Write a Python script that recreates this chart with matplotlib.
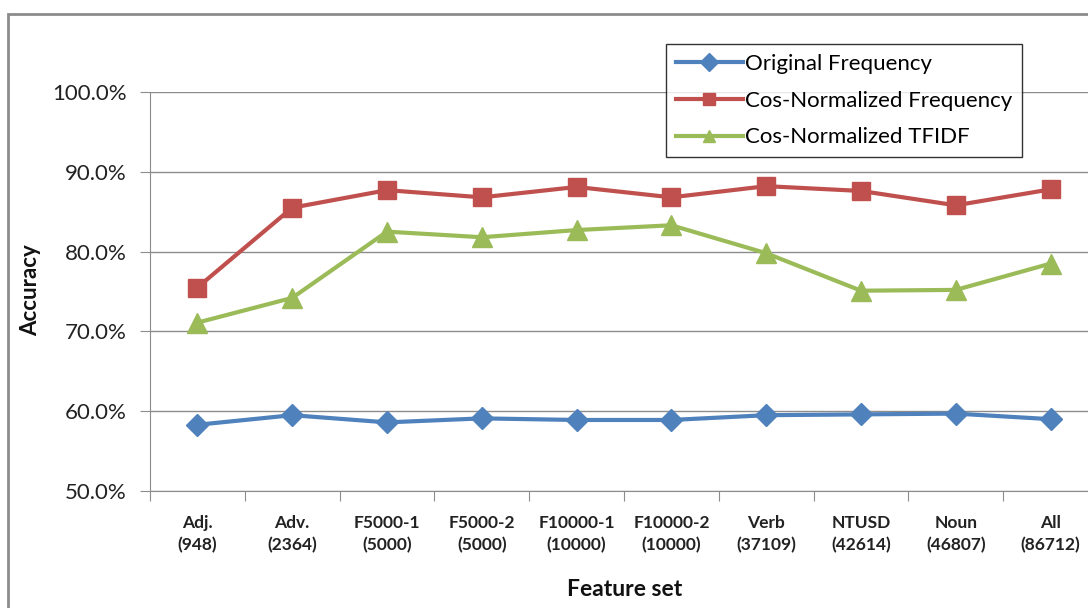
import numpy as np
import matplotlib
matplotlib.use("Agg")
import matplotlib.pyplot as plt
from matplotlib.patches import Rectangle

plt.rcParams['font.family'] = ['Lato', 'DejaVu Sans']

categories = ["Adj.\n(948)", "Adv.\n(2364)", "F5000-1\n(5000)", "F5000-2\n(5000)",
              "F10000-1\n(10000)", "F10000-2\n(10000)", "Verb\n(37109)",
              "NTUSD\n(42614)", "Noun\n(46807)", "All\n(86712)"]
orig_freq = [58.3, 59.5, 58.6, 59.1, 58.9, 58.9, 59.5, 59.6, 59.7, 59.0]
cos_freq = [75.5, 85.5, 87.7, 86.8, 88.1, 86.8, 88.2, 87.6, 85.8, 87.8]
cos_tfidf = [71.1, 74.2, 82.5, 81.8, 82.7, 83.3, 79.8, 75.1, 75.2, 78.5]

W, H = 1088, 608
fig = plt.figure(figsize=(W / 100, H / 100), dpi=100)

# outer chart frame (cropped at right/bottom like the source)
fig.patches.append(Rectangle((8 / W, -0.1), 1.2, 1 - 14 / H + 0.1,
                             transform=fig.transFigure, fill=False,
                             edgecolor='#8c8c8c', lw=2, zorder=0))

ax = fig.add_axes([150 / W, 1 - 491 / H, (1098 - 150) / W, (491 - 92) / H])
x = np.arange(len(categories))

ax.plot(x, orig_freq, color='#4F81BD', lw=3, marker='D', ms=11,
        label='Original Frequency', clip_on=False, zorder=3)
ax.plot(x, cos_freq, color='#C0504D', lw=3, marker='s', ms=13,
        label='Cos-Normalized Frequency', clip_on=False, zorder=3)
ax.plot(x, cos_tfidf, color='#9BBB59', lw=3, marker='^', ms=14,
        label='Cos-Normalized TFIDF', clip_on=False, zorder=3)

ax.set_xlim(-0.5, len(categories) - 0.5)
ax.set_ylim(50, 100)
ax.set_yticks(np.arange(50, 101, 10))
ax.set_yticklabels(["%.1f%%" % v for v in np.arange(50, 101, 10)], fontsize=16,
                   color='#222222')
ax.yaxis.grid(True, color='#8c8c8c', lw=1)
ax.set_axisbelow(True)

ax.set_xticks(np.arange(-0.5, len(categories), 1))
ax.set_xticklabels([])
ax.set_xticks(x, minor=True)
ax.set_xticklabels(categories, minor=True, fontsize=12.5, fontweight='bold',
                   color='#222222', linespacing=1.45)
ax.tick_params(axis='x', which='minor', length=0, pad=17)
ax.tick_params(axis='x', which='major', length=7, color='#8c8c8c', direction='out')
ax.tick_params(axis='y', length=7, color='#8c8c8c', direction='out', pad=10)

for s in ['top', 'right']:
    ax.spines[s].set_visible(False)
for s in ['left', 'bottom']:
    ax.spines[s].set_color('#8c8c8c')

fig.text(31 / W, 1 - 290 / H, 'Accuracy', rotation=90, ha='center', va='center',
         fontsize=16, fontweight='bold', color='#111111')
fig.text(625 / W, 1 - 590 / H, 'Feature set', ha='center', va='center',
         fontsize=16.5, fontweight='bold', color='#111111')

leg = ax.legend(loc='upper left', bbox_to_anchor=((666 - 150) / (1098 - 150), 1 + (92 - 44) / (491 - 92)),
                fontsize=16, frameon=True, fancybox=False, edgecolor='black',
                handlelength=3.0, borderpad=0.45, labelspacing=0.75, handletextpad=0.1,
                borderaxespad=0)
leg.get_frame().set_linewidth(1)
for h in leg.legend_handles:
    h.set_markersize(9)

fig.savefig('out.png', dpi=100)
